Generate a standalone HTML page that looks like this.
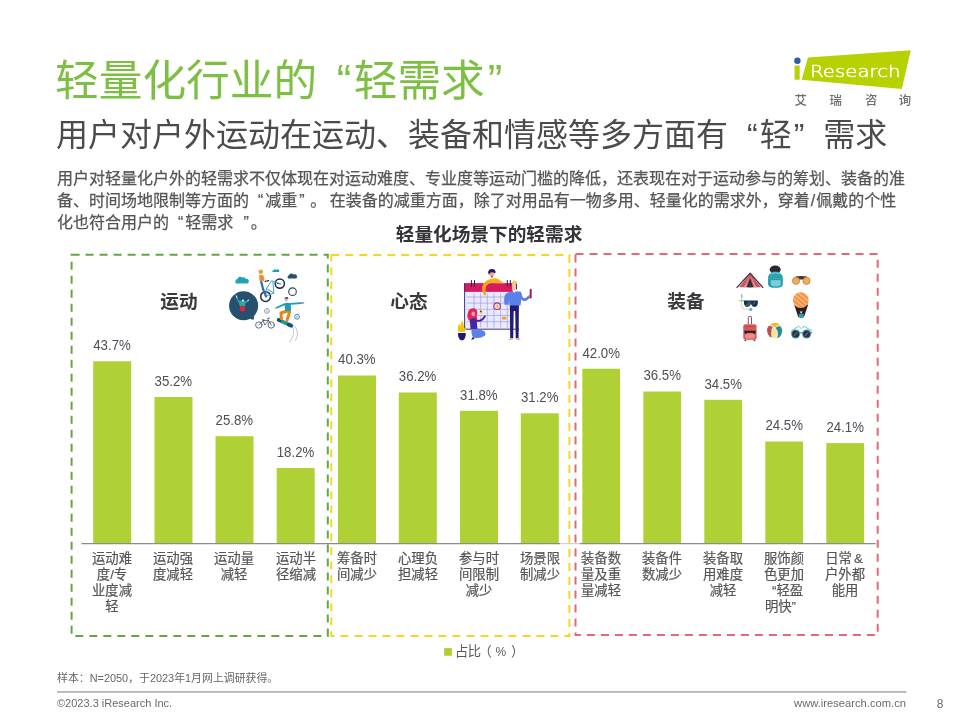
<!DOCTYPE html>
<html lang="zh-CN">
<head>
<meta charset="utf-8">
<title>轻量化行业的“轻需求”</title>
<style>
html,body{margin:0;padding:0;background:#fff;}
body{width:960px;height:720px;overflow:hidden;}
#slide{position:relative;width:960px;height:720px;background:#fff;overflow:hidden;
  font-family:"Liberation Sans","Noto Sans CJK SC",sans-serif;color:#595959;}
#slide div{position:absolute;white-space:nowrap;will-change:transform;}
#gfx{position:absolute;left:0;top:0;will-change:transform;}
#t1{left:55px;top:49px;font-size:43.7px;line-height:64px;color:#7cbf42;}
#t1 .oq{margin-left:19.5px;margin-right:2.5px;}
#t1 .cq{margin-left:3px;}
#t2{left:56px;top:111px;font-size:32px;line-height:48px;color:#4b4b4b;}
#t2 .oq{margin-left:19px;margin-right:2px;}
#t2 .cq{margin-left:2px;margin-right:19px;}
#body{left:57px;top:168px;font-size:16px;line-height:22px;color:#555;-webkit-text-stroke:0.25px #555;}
#body .oq{margin-left:9px;margin-right:2px;}
#body .cq{margin-left:2px;margin-right:9px;}
#ct{left:389px;width:200px;top:221px;font-size:18.67px;line-height:28px;font-weight:bold;color:#333338;text-align:center;}
.pt{font-size:18.67px;line-height:28px;font-weight:bold;color:#3a3a3e;text-align:center;width:80px;top:288px;}
.xl{font-size:13.33px;line-height:16px;color:#555;-webkit-text-stroke:0.2px #555;text-align:center;width:60px;top:550.8px;}
#lg{left:455.3px;top:642.4px;width:75px;font-size:13.33px;line-height:20px;color:#595959;}
#note{left:57px;top:669.5px;font-size:10.9px;line-height:16px;color:#666;}
#cp{left:57px;top:695px;font-size:11px;line-height:16px;color:#6a6a6a;}
#url{left:760px;width:146px;text-align:right;top:695px;font-size:11.2px;line-height:16px;color:#6a6a6a;}
#pg{left:930px;width:20px;text-align:center;top:695.5px;font-size:12px;line-height:16px;color:#6a6a6a;}
.v{font-family:"Liberation Sans",sans-serif;font-size:14.2px;fill:#4e4f56;}
</style>
</head>
<body>
<div id="slide">
<svg id="gfx" width="960" height="720" viewBox="0 0 960 720">
  <!-- dashed panels -->
  <g fill="none" stroke-width="2" stroke-dasharray="8 6">
    <rect x="71.6" y="254.7" width="256.2" height="381.3" stroke="#62a644"/>
    <rect x="331.3" y="255" width="238.1" height="381" stroke="#f3d822"/>
    <rect x="575.5" y="254" width="302.2" height="381" stroke="#e2687a"/>
  </g>
  <!-- bars -->
  <g fill="#b0d136">
    <rect x="93.2" y="361.3" width="38" height="182.2"/>
    <rect x="154.5" y="397" width="38" height="146.5"/>
    <rect x="215.5" y="436.2" width="38" height="107.3"/>
    <rect x="276.7" y="468" width="38" height="75.5"/>
    <rect x="338" y="375.5" width="38" height="168"/>
    <rect x="398.8" y="392.5" width="38" height="151"/>
    <rect x="460" y="410.8" width="38" height="132.7"/>
    <rect x="520.8" y="413.3" width="38" height="130.2"/>
    <rect x="582.3" y="368.7" width="37.8" height="174.8"/>
    <rect x="643.3" y="391.5" width="37.8" height="152"/>
    <rect x="704.3" y="399.8" width="37.8" height="143.7"/>
    <rect x="765.3" y="441.5" width="37.8" height="102"/>
    <rect x="826.3" y="443.1" width="37.8" height="100.4"/>
  </g>
  <!-- axis -->
  <g stroke="#8c8c90" stroke-width="1.2">
    <line x1="81.4" y1="543.6" x2="560" y2="543.6"/>
    <line x1="580" y1="543.6" x2="875.6" y2="543.6"/>
    <line x1="560" y1="543.6" x2="580" y2="543.6" stroke="#d0d0d0"/>
  </g>
  <!-- value labels -->
  <g class="v" text-anchor="middle">
    <text x="112" y="350.2" textLength="37.5" lengthAdjust="spacingAndGlyphs">43.7%</text>
    <text x="173.3" y="385.9" textLength="37.5" lengthAdjust="spacingAndGlyphs">35.2%</text>
    <text x="234.3" y="425.1" textLength="37.5" lengthAdjust="spacingAndGlyphs">25.8%</text>
    <text x="295.5" y="456.9" textLength="37.5" lengthAdjust="spacingAndGlyphs">18.2%</text>
    <text x="356.8" y="364.4" textLength="37.5" lengthAdjust="spacingAndGlyphs">40.3%</text>
    <text x="417.6" y="381.4" textLength="37.5" lengthAdjust="spacingAndGlyphs">36.2%</text>
    <text x="478.8" y="399.7" textLength="37.5" lengthAdjust="spacingAndGlyphs">31.8%</text>
    <text x="539.7" y="402.2" textLength="37.5" lengthAdjust="spacingAndGlyphs">31.2%</text>
    <text x="601.2" y="357.6" textLength="37.5" lengthAdjust="spacingAndGlyphs">42.0%</text>
    <text x="662.2" y="380.4" textLength="37.5" lengthAdjust="spacingAndGlyphs">36.5%</text>
    <text x="723.2" y="388.7" textLength="37.5" lengthAdjust="spacingAndGlyphs">34.5%</text>
    <text x="784.2" y="430.4" textLength="37.5" lengthAdjust="spacingAndGlyphs">24.5%</text>
    <text x="845.2" y="432" textLength="37.5" lengthAdjust="spacingAndGlyphs">24.1%</text>
  </g>
  <!-- legend swatch -->
  <rect x="444.1" y="648.1" width="7.8" height="7.7" fill="#b0d136"/>
  <!-- footer rule -->
  <rect x="57" y="691" width="849.3" height="1.8" fill="#b5b5b5"/>
  <!-- logo -->
  <g id="logo">
    <polygon points="808,57.5 910.8,50.2 901.8,88.9 801.6,79.7" fill="#b7d202"/>
    <rect x="794.6" y="65.5" width="5.1" height="14.2" fill="#b7d202"/>
    <circle cx="797.4" cy="60.8" r="3.2" fill="#2f5da8"/>
    <text x="810" y="77.3" font-family="'DejaVu Sans Light','DejaVu Sans','Liberation Sans',sans-serif" font-weight="200" font-size="16.2" fill="#fff" stroke="#fff" stroke-width="0.45" textLength="90.5" lengthAdjust="spacingAndGlyphs">Research</text>
    <g font-family="'Liberation Sans','Noto Sans CJK SC',sans-serif" font-size="12.4" font-weight="500" fill="#6e6e6e" text-anchor="middle">
      <text x="800.8" y="104.8">艾</text>
      <text x="835.8" y="104.8">瑞</text>
      <text x="871.2" y="104.8">咨</text>
      <text x="905" y="104.8">询</text>
    </g>
  </g>
  <!-- ILLUSTRATIONS -->
  <g id="ill1">
    <!-- clouds -->
    <path d="M236.3 283.6 a2.6 2.6 0 0 1 1.2-4.6 a3 3 0 0 1 5-1.4 a2.4 2.4 0 0 1 3.4 1.3 a2.5 2.5 0 0 1 1.6 4.7 z" fill="#1fa3b6"/>
    <path d="M272.4 271.9 a1.2 1.2 0 0 1 1.2-1.6 a1.7 1.7 0 0 1 3-0.4 a1.4 1.4 0 0 1 2.4 2 z" fill="#1fa3b6"/>
    <path d="M288.2 278.6 a2 2 0 0 1 0.8-3.4 a2.6 2.6 0 0 1 4.6-0.6 a2.2 2.2 0 0 1 2.4 4 z" fill="#27506e"/>
    <!-- dark bubble with figure -->
    <circle cx="243.6" cy="305.7" r="14.5" fill="#27506f"/>
    <path d="M249.5 318.6 L253.4 320.1 L254.4 315.6 z" fill="#27506f"/>
    <path d="M236.4 296.2 L238.4 301.4 M248.6 300.2 L245.4 302.4" stroke="#2ba7b4" stroke-width="1.3" stroke-linecap="round" fill="none"/>
    <path d="M236.3 295.8 L236.9 297.6 M248.8 300 L247.6 300.9" stroke="#c9eef5" stroke-width="1" stroke-linecap="round" fill="none"/>
    <path d="M238 300.8 Q242 299.6 246 301.8 L244.8 306.6 H240 z" fill="#2ba7a9"/>
    <circle cx="243" cy="300.6" r="1.1" fill="#d8f3f8"/>
    <ellipse cx="242.5" cy="308.7" rx="2.7" ry="3" fill="#d9263f"/>
    <!-- BMX rider -->
    <g fill="none" stroke-linecap="round">
      <circle cx="279.8" cy="283.6" r="4.6" stroke="#1f2f45" stroke-width="1.5"/>
      <path d="M277.6 283.4 L280.2 283.8" stroke="#1f2f45" stroke-width="1.1"/>
      <circle cx="265.6" cy="296.6" r="4.9" stroke="#1f2f45" stroke-width="1.5"/>
      <path d="M271.7 280.6 L266.5 288.6 L273.8 293 L272.9 281.2 M272.9 281.2 L279.8 283.6 M273.8 293 L265.6 296.6 L266.5 288.6" stroke="#3fa6c4" stroke-width="1"/>
      <path d="M265.2 281.3 L268.6 280.7" stroke="#1f2f45" stroke-width="1.3"/>
      <path d="M261.2 281.8 L263.2 289.5 L266 296.4" stroke="#2c6cb0" stroke-width="2.2"/>
      <path d="M262.6 277 L266.6 281" stroke="#f0b27a" stroke-width="1"/>
    </g>
    <path d="M259 275.2 q2.4 -1.2 4.6 0.2 l0.6 5.6 h-4.6 z" fill="#e8902f"/>
    <circle cx="260.8" cy="271.8" r="2.3" fill="#dba743"/>
    <!-- rings -->
    <circle cx="292.5" cy="291.7" r="3.8" fill="none" stroke="#2b4560" stroke-width="1.1"/>
    <circle cx="266.9" cy="310.9" r="2.4" fill="none" stroke="#55708f" stroke-width="0.7"/>
    <circle cx="266.9" cy="310.9" r="0.8" fill="#8aa0b8"/>
    <circle cx="297" cy="316.8" r="2.4" fill="none" stroke="#3d6fb5" stroke-width="0.9"/>
    <circle cx="297" cy="316.8" r="0.9" fill="#7f9fd0"/>
    <!-- small bicycle -->
    <g fill="none" stroke="#3a4a60" stroke-width="0.8" stroke-linecap="round">
      <circle cx="258.8" cy="325" r="3.2"/>
      <circle cx="271.2" cy="325" r="3.2"/>
      <path d="M258.8 325 L263 320.6 L268.6 320.6 L271.2 325 M263 320.6 L264.8 325 L268.6 320.6 M268.6 320.6 L267.6 318.4 L269.8 318 M262.4 319.8 h1.8"/>
    </g>
    <!-- skateboarder -->
    <g fill="none" stroke-linecap="round">
      <path d="M291 325.2 C294.6 329 295 335 289.6 341.6" stroke="#9a9ab8" stroke-width="0.6"/>
      <path d="M293.4 325.2 C298.6 330 298.4 335.6 295.4 340.4" stroke="#9a9ab8" stroke-width="0.6"/>
      <path d="M279 320 L291 325.6" stroke="#189aa8" stroke-width="3.6"/>
      <path d="M278.6 319.8 L280 320.5 M288.6 324.5 L291.2 325.7" stroke="#1e4e6e" stroke-width="3.6"/>
      <path d="M287.6 311 L281 313 L281.4 318.8" stroke="#e8850f" stroke-width="3" stroke-linejoin="round"/>
      <path d="M289.6 311.6 L287 320.4" stroke="#e8850f" stroke-width="3"/>
      <path d="M285 304.2 L276 308" stroke="#1e9bb8" stroke-width="1.8"/>
      <path d="M290.4 303.9 L301 303.1" stroke="#1e9bb8" stroke-width="1.8"/>
      <path d="M301 303.1 L303.6 302.9" stroke="#8f86b8" stroke-width="1.5"/>
      <path d="M276 308 L275.2 308.4" stroke="#e9c0a6" stroke-width="1.5"/>
    </g>
    <path d="M284.5 303.6 q2.8 -1.8 6.2 -0.2 l0.4 7.4 h-6 z" fill="#1e9bb8"/>
    <circle cx="286.3" cy="300" r="1.7" fill="#e9b9a0"/>
    <path d="M284.5 299.2 q0.3 -2.6 2.6 -2.2 q1.6 0.4 1.2 2 q-1.6 -1 -3.8 0.2 z" fill="#2a2f4a"/>
  </g>
  <g id="ill2">
    <!-- calendar -->
    <rect x="464.3" y="291.6" width="48.4" height="37.6" fill="#e9eafb"/>
    <g stroke="#9a8fe0" stroke-width="0.6" fill="none">
      <path d="M474 293.5V327.5 M480.7 293.5V327.5 M487.3 293.5V327.5 M494 293.5V327.5 M500.6 293.5V327.5 M507.3 293.5V327.5"/>
      <path d="M467 297H511 M467 303.1H511 M467 309.3H511 M467 315.5H511 M467 321.7H511"/>
    </g>
    <rect x="464.3" y="283.1" width="48.4" height="8.8" fill="#d81b60"/>
    <path d="M464.6 283.1 V329.2 H519" fill="none" stroke="#2a2380" stroke-width="0.9"/>
    <path d="M471.4 280.5V286.6 M474.5 280.5V286.6 M507.3 280.5V286 M510.3 280.5V286" stroke="#2a1a55" stroke-width="1" stroke-linecap="round"/>
    <circle cx="497.1" cy="306.2" r="3.3" fill="#f3d9c8" stroke="#8e3fa6" stroke-width="1.1"/>
    <circle cx="497.3" cy="306.2" r="1.4" fill="#f4c542"/>
    <rect x="502" y="316.8" width="4.2" height="2.8" fill="#f2a33a"/>
    <!-- top man (orange) -->
    <path d="M484.2 295.2 C480 288.4 482 281 491 279.2 L498 279 L503 282.6 L503 283.4 L492 283 C486.3 283.4 484.4 287.4 486.2 294 Q485.4 296 484.2 295.2 z" fill="#f5a81c"/>
    <path d="M486.4 280.8 Q491 277.6 497 278.4 L503 282.9 L489 283 z" fill="#f5b21e"/>
    <circle cx="491.8" cy="274.4" r="2.4" fill="#f1a7a0"/>
    <path d="M488.2 273.6 q-0.4 -4.6 3.6 -4.6 q4 0 3.8 3.6 q-1 1.4 -1.4 0.4 q-2.6 -1.6 -4.6 0.4 q0 2 -1.4 0.2z" fill="#1f1b6b"/>
    <path d="M490.8 275.4 q1.2 1 2.2 0 l-0.4 2 h-1.4z" fill="#b5382c"/>
    <!-- blond man -->
    <path d="M509.9 305 H518.9 L518.6 338.4 H515.7 L515.2 311 H513.7 L513.2 338.4 H510.2 z" fill="#1f1b7a"/>
    <path d="M509.4 338.2 h3.8 v1.3 q-2.6 0.8 -4.6 0.2 z M515.7 338.2 h3.4 q1.6 1 1.8 1.8 q-2.8 0.4 -5.2 -0.4 z" fill="#e9b9a6"/>
    <path d="M504.4 296.4 Q505.4 292.4 511.4 291.4 L517.4 291.2 Q520.8 291.6 521.6 294 L520.6 305.4 H509.4 L509 299.6 L508.6 304.8 H504.6 Q503.8 300.6 504.4 296.4 z" fill="#5b80e8"/>
    <path d="M519.8 292.8 Q522.3 304.2 529.2 296.6" fill="none" stroke="#5b80e8" stroke-width="2.8" stroke-linecap="round"/>
    <circle cx="529.8" cy="295.6" r="1.2" fill="#f1b7a6"/>
    <path d="M530.7 289.8 V297.6" stroke="#8e1f44" stroke-width="1.9" stroke-linecap="round"/>
    <path d="M512.6 290.4 h3.4 l-1.7 2.6 z" fill="#fff"/>
    <rect x="512.3" y="282.8" width="4" height="7.8" rx="1.9" fill="#f5c9a8"/>
    <path d="M511.9 285.4 q-0.2 -4.8 2.8 -4.9 q2.6 0 2 3.2 q-2.4 -0.6 -3.4 0.6 z" fill="#f4c95d"/>
    <path d="M516.5 283.6 V289.4" stroke="#3b1f5b" stroke-width="0.9"/>
    <!-- woman -->
    <path d="M467.6 317.8 C466.8 311.6 469.6 307.8 473.6 308.2 C477.6 308.6 478 313 476.6 316 L477.4 319.6 L469 320.6 z" fill="#e0245e"/>
    <ellipse cx="473.3" cy="313.9" rx="1.9" ry="2.3" fill="#f4958c"/>
    <path d="M469.8 320 Q472.6 317.2 476.6 319 L477.4 329 H470.6 z" fill="#4326a0"/>
    <path d="M476.6 320.8 Q481.6 321.6 484.8 316.4" fill="none" stroke="#4326a0" stroke-width="1.9" stroke-linecap="round"/>
    <rect x="478.6" y="309.6" width="5.2" height="5.4" rx="0.8" fill="#f6e8c8" transform="rotate(-8 481.2 312.3)"/>
    <rect x="480.1" y="310.6" width="1.6" height="1.8" fill="#3b2a6b"/>
    <rect x="479.9" y="312.4" width="2.6" height="1.2" fill="#f4c542"/>
    <path d="M471.6 329 Q470.8 334 473.2 337.4 Q480 339.2 485 335.4 Q486.8 331.6 482 330.2 Q477 329 471.6 329 z" fill="#5b80e8"/>
    <path d="M472.8 336.8 L471.2 340.2 L474.6 338.4 z" fill="#1f1b6b"/>
    <!-- plant -->
    <path d="M458.2 331.8 Q457 326 459.6 323.4 Q461 327 461 331.8 z M460.4 332 Q460 324.4 462.2 320.6 Q464.6 325 463.6 332 z M463 332 Q463.8 327.6 465.8 326.2 Q466.2 329.6 465 332 z" fill="#f4c20d"/>
    <path d="M458 333 H465.8 Q466 338.4 463.2 340.2 H460.6 Q457.8 338.4 458 333 z" fill="#1f1b6b"/>
  </g>
  <g id="ill3">
    <defs>
      <pattern id="bst" width="3.6" height="3.6" patternUnits="userSpaceOnUse" patternTransform="rotate(-50)">
        <rect width="3.6" height="3.6" fill="#f4913f"/>
        <rect width="1.7" height="3.6" fill="#fab77a"/>
      </pattern>
      <clipPath id="bbc"><circle cx="775" cy="330.6" r="7.9"/></clipPath>
    </defs>
    <!-- tent -->
    <path d="M750.1 273.8 L739 287.3 H761 z" fill="#c9525f"/>
    <path d="M750.1 274.4 L743.6 287.3 H746 z M750.1 274.4 L754.2 287.3 H756.6 z" fill="#e58c92"/>
    <path d="M750.1 278.6 L746.9 287.2 H753.3 z" fill="#2b2b33"/>
    <path d="M750.1 281.6 L748.9 287.2 H751.3 z" fill="#1f4d4a"/>
    <path d="M737 287.4 L750.1 273.2 L762.8 287.4" fill="none" stroke="#3e3540" stroke-width="1.3" stroke-linejoin="round" stroke-linecap="round"/>
    <!-- backpack -->
    <ellipse cx="775.2" cy="269.6" rx="5.5" ry="4.2" fill="#2a2a2e"/>
    <path d="M768 279 Q768 271.4 775.4 271.4 Q782.9 271.4 782.9 279 V283.6 Q782.9 287.7 778.6 287.7 H772.2 Q768 287.7 768 283.6 z" fill="#2aa3b3"/>
    <path d="M770 274 Q775.4 271.4 781 274" fill="none" stroke="#8fd6de" stroke-width="0.9"/>
    <rect x="771" y="278.8" width="9.6" height="7.4" rx="2.6" fill="#7ccbd6"/>
    <path d="M772 279.6 H779.6" stroke="#1d7f8e" stroke-width="0.8"/>
    <!-- binoculars -->
    <path d="M795.4 276.6 Q801.2 275.2 807 276.6 L806.4 279.4 H796 z" fill="#4a3228"/>
    <circle cx="796" cy="280.8" r="3.9" fill="#c98a3f"/>
    <circle cx="806.5" cy="280.8" r="3.9" fill="#c98a3f"/>
    <circle cx="796" cy="280.9" r="2.9" fill="#eab062"/>
    <circle cx="806.5" cy="280.9" r="2.9" fill="#eab062"/>
    <!-- snorkel + mask -->
    <path d="M741.7 296 V305.4 Q741.7 309.3 746 309.3 H749.4" fill="none" stroke="#ead79c" stroke-width="1.1" stroke-linecap="round"/>
    <path d="M741.7 294.6 V297.4" stroke="#6fc7bb" stroke-width="1.3" stroke-linecap="round"/>
    <circle cx="750.8" cy="309.4" r="1.6" fill="#5fb9b4"/>
    <path d="M739 300.7 H744.4" stroke="#43d07c" stroke-width="0.8"/>
    <path d="M743.9 300.4 H757.9 Q758.3 306.9 754.6 306.9 Q752 306.9 751.3 304.6 Q750.9 303.8 750.5 304.6 Q749.8 306.9 747.2 306.9 Q743.5 306.9 743.9 300.4 z" fill="#16324a"/>
    <path d="M746.2 305.6 L749.6 301.6 M747.8 305.9 L750.6 302.6 M753.2 304.2 L755 302" stroke="#5b8cb0" stroke-width="0.8" stroke-linecap="round"/>
    <!-- balloon -->
    <path d="M794.2 304.6 H808.2 L804 317 H798.2 z" fill="#2b1f22"/>
    <path d="M799.6 311.4 h3 l-1.5 2.2 z" fill="#fff"/>
    <path d="M798.6 314.2 Q801.2 312.6 803.9 314.2 L803.5 317.6 Q801.2 318.8 799 317.6 z" fill="#2f9db0"/>
    <circle cx="800.8" cy="300.2" r="7.9" fill="url(#bst)"/>
    <!-- suitcase -->
    <path d="M748.3 324.4 V317.2 Q748.3 316.4 749.1 316.4 H750.7 Q751.5 316.4 751.5 317.2 V324.4" fill="none" stroke="#8c3b3b" stroke-width="0.9"/>
    <rect x="743.3" y="324.2" width="13.3" height="15.6" rx="2" fill="#d4595b"/>
    <rect x="745.2" y="333.4" width="9.6" height="5.2" rx="1" fill="#f08c88"/>
    <path d="M744.3 330.7 H755.7 V332.6 L754.2 334.2 L752.6 332.8 H747.4 L745.8 334.2 L744.3 332.6 z" fill="#2b2226"/>
    <path d="M745 326.6 H755" stroke="#b84649" stroke-width="0.8"/>
    <rect x="744.6" y="339.8" width="1.6" height="1.4" fill="#7d3134"/>
    <rect x="753.6" y="339.8" width="1.6" height="1.4" fill="#7d3134"/>
    <!-- beach ball -->
    <g clip-path="url(#bbc)">
      <circle cx="775" cy="330.6" r="7.9" fill="#fbe3a8"/>
      <path d="M767 326 Q769.6 325.4 772.6 326.8 Q770.4 331 771.6 337.4 L767.4 337 Q765.4 331 767 326 z" fill="#b5564e"/>
      <path d="M770.4 324.6 Q774 320.4 780.4 324 Q777.4 324.6 775.2 327.2 Q772.8 325.4 770.4 324.6 z" fill="#f2b04c"/>
      <path d="M775.6 327.8 Q778.2 325.6 780.6 326.6 Q784 331.6 779.4 338 Q777 339.4 777.6 337 Q779.2 332 775.6 327.8 z" fill="#1e8fa0"/>
      <path d="M781 326 Q784.6 330.6 781.4 337.4 L784 336 V326 z" fill="#f7d9b0"/>
    </g>
    <!-- sunglasses -->
    <path d="M791.2 331 L798.6 326.2 L800.8 328.2 M811.8 331 L804.2 326.2 L802 328.2" fill="none" stroke="#5fb9b4" stroke-width="0.9" stroke-linejoin="round" stroke-linecap="round"/>
    <path d="M791 332.8 H812" stroke="#3ba6a0" stroke-width="1.3"/>
    <circle cx="795.6" cy="334" r="4.5" fill="#3ba6a0"/>
    <circle cx="806.6" cy="334" r="4.5" fill="#3ba6a0"/>
    <circle cx="795.6" cy="334" r="3.5" fill="#23324a"/>
    <circle cx="806.6" cy="334" r="3.5" fill="#23324a"/>
    <path d="M794.2 335.8 L797 332.4 M805.2 335.8 L808 332.4" stroke="#8a4a7a" stroke-width="1.4" stroke-linecap="round"/>
  </g>
</svg>

<div id="t1">轻量化行业的<span class="oq">“</span>轻需求<span class="cq">”</span></div>
<div id="t2">用户对户外运动在运动、装备和情感等多方面有<span class="oq">“</span>轻<span class="cq">”</span>需求</div>
<div id="body">用户对轻量化户外的轻需求不仅体现在对运动难度、专业度等运动门槛的降低，还表现在对于运动参与的筹划、装备的准<br>备、时间场地限制等方面的<span class="oq">“</span>减重<span class="cq">”</span><span style="position:relative;left:-3.4px">。</span>在装备的减重方面，除了对用品有一物多用、轻量化的需求外，穿着<span style="margin:0 1px">/</span>佩戴的个性<br>化也符合用户的<span class="oq">“</span>轻需求 <span class="cq" style="position:relative;left:3.7px">”</span><span style="position:relative;left:-3.4px">。</span></div>
<div id="ct">轻量化场景下的轻需求</div>

<div class="pt" style="left:138.6px">运动</div>
<div class="pt" style="left:368.5px">心态</div>
<div class="pt" style="left:645.7px">装备</div>

<div class="xl" style="left:82px">运动难<br>度/专<br>业度减<br>轻</div>
<div class="xl" style="left:143.3px">运动强<br>度减轻</div>
<div class="xl" style="left:204.3px">运动量<br>减轻</div>
<div class="xl" style="left:265.5px">运动半<br>径缩减</div>
<div class="xl" style="left:326.8px">筹备时<br>间减少</div>
<div class="xl" style="left:387.6px">心理负<br>担减轻</div>
<div class="xl" style="left:448.8px">参与时<br>间限制<br>减少</div>
<div class="xl" style="left:509.7px">场景限<br>制减少</div>
<div class="xl" style="left:571.2px">装备数<br>量及重<br>量减轻</div>
<div class="xl" style="left:632.2px">装备件<br>数减少</div>
<div class="xl" style="left:693.2px">装备取<br>用难度<br>减轻</div>
<div class="xl" style="left:754.2px">服饰颜<br>色更加<br><span style="margin-left:7px">“</span>轻盈<br>明快<span style="margin-right:7px">”</span></div>
<div class="xl" style="left:815.2px">日常<span style="letter-spacing:2px;margin-left:2px">&amp;</span><br>户外都<br>能用</div>

<div id="lg"><span style="letter-spacing:-0.6px">占比</span><span style="position:absolute;left:23.4px">（</span><span style="position:absolute;left:40.6px;font-size:12px">%</span><span style="position:absolute;left:56.1px">）</span></div>
<div id="note">样本：N=2050，于2023年1月网上调研获得。</div>
<div id="cp">©2023.3 iResearch Inc.</div>
<div id="url">www.iresearch.com.cn</div>
<div id="pg">8</div>
</div>
</body>
</html>
